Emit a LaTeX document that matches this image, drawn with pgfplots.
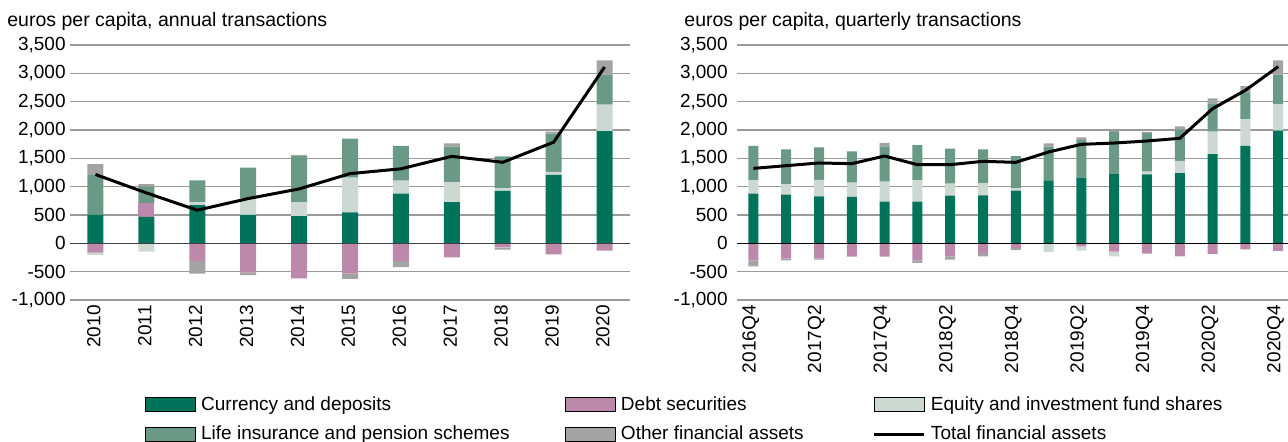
\documentclass[border=0pt]{standalone}
\usepackage{fontspec}
\setmainfont{Liberation Sans}
\usepackage{pgfplots}
\usepackage{pgfplotstable}
\pgfplotsset{compat=1.18}

\definecolor{cdep}{HTML}{00735A}
\definecolor{debt}{HTML}{BD89AA}
\definecolor{equity}{HTML}{CCD8D1}
\definecolor{lifeins}{HTML}{6A9A85}
\definecolor{other}{HTML}{A3A3A3}
\definecolor{gridc}{HTML}{9A9A9A}

% annual transactions, euros per capita (x: 0 = 2010)
\pgfplotstableread{
x cur debtp eq life oth debtn eqn othn total
0 500 0 0 718 182 -165 -40 0 1215
1 465 240 0 294 47 0 -147 0 890
2 676 0 53 383 0 -312 0 -223 585
3 500 0 294 541 0 -518 0 -41 790
4 482 0 247 818 12 -618 0 0 960
5 547 0 612 688 0 -535 0 -94 1230
6 876 0 230 612 0 -312 0 -106 1315
7 729 0 353 624 59 -247 0 0 1535
8 924 0 47 564 0 -70 -10 -30 1430
9 1206 0 53 676 36 -194 0 0 1785
10 1982 0 465 529 253 -129 0 0 3110
}\annual

% quarterly transactions (x: 0 = 2016Q4)
\pgfplotstableread{
x cur eq life oth debtn eqn othn total
0 876 236 606 0 -300 0 -106 1323
1 859 182 618 0 -271 0 -30 1370
2 829 289 576 0 -265 0 -24 1418
3 818 253 552 0 -235 0 0 1406
4 735 353 624 59 -235 0 0 1541
5 735 377 623 0 -300 0 -47 1388
6 841 212 618 0 -229 0 -59 1388
7 847 212 600 0 -171 0 -59 1447
8 929 42 570 0 -82 0 -35 1429
9 1100 0 606 59 0 -153 0 1612
10 1159 0 665 47 -53 -76 0 1747
11 1229 0 736 15 -147 -82 0 1770
12 1218 47 682 18 -182 0 0 1806
13 1241 212 553 59 -229 0 0 1853
14 1576 395 499 89 -188 0 0 2376
15 1718 470 465 123 -106 0 0 2700
16 1988 465 523 253 -135 0 0 3118
}\quarterly

\newcommand{\fs}{\fontsize{9.5}{11}\selectfont}
\newcommand{\fst}{\fontsize{9.75}{11}\selectfont}

\pgfplotsset{
  base/.style={scale only axis, height=127.5pt, ymin=-1000, ymax=3500, xmin=-0.5,
    anchor=south west, axis line style={draw=none}, major tick length=0pt,
    tick style={draw=none}},
  over/.style={base, hide axis},
  swatch/.style={legend image code/.code={\fill[##1] (0pt,-3.5pt) rectangle (25pt,3.5pt);}},
  linesw/.style={legend image code/.code={\draw[##1] (0pt,0pt) -- (25pt,0pt);}},
}

\begin{document}
\begin{tikzpicture}
\path[use as bounding box] (0pt,0pt) rectangle (644pt,-221pt);

\node[anchor=base west, font=\fst, inner sep=0pt] at (3.5pt,-13.5pt) {euros per capita, annual transactions};
\node[anchor=base west, font=\fst, inner sep=0pt] at (342pt,-13.5pt) {euros per capita, quarterly transactions};

% ---- annual: positive part ----
\begin{axis}[base, at={(35pt,-150pt)}, width=280pt, xmax=10.5,
  ybar stacked, bar width=8pt,
  ymajorgrids, grid style={gridc, line width=0.6pt},
  ytick={-1000,-500,...,3500},
  yticklabels={{-1,000},{-500},{0},{500},{1,000},{1,500},{2,000},{2,500},{3,000},{3,500}},
  xtick={0,...,10},
  xticklabels={2010,2011,2012,2013,2014,2015,2016,2017,2018,2019,2020},
  tick label style={font=\fs},
  yticklabel style={inner sep=0pt, xshift=-2pt},
  xticklabel style={xshift=-0.8pt, yshift=-2.5pt, rotate=90, anchor=east, inner sep=0pt},
]
\addplot[fill=cdep, draw=none] table[x=x, y=cur] {\annual};
\addplot[fill=debt, draw=none] table[x=x, y=debtp] {\annual};
\addplot[fill=equity, draw=none] table[x=x, y=eq] {\annual};
\addplot[fill=lifeins, draw=none] table[x=x, y=life] {\annual};
\addplot[fill=other, draw=none] table[x=x, y=oth] {\annual};
\end{axis}
% ---- annual: negative part ----
\begin{axis}[over, at={(35pt,-150pt)}, width=280pt, xmax=10.5,
  ybar stacked, bar width=8pt]
\addplot[fill=debt, draw=none] table[x=x, y=debtn] {\annual};
\addplot[fill=equity, draw=none] table[x=x, y=eqn] {\annual};
\addplot[fill=other, draw=none] table[x=x, y=othn] {\annual};
\end{axis}
% ---- annual: zero line, total, legend ----
\begin{axis}[over, at={(35pt,-150pt)}, width=280pt, xmax=10.5,
  legend columns=3,
  legend style={at={(0.1339,-0.357)}, anchor=north west, draw=none, fill=none,
    inner sep=0pt, column sep=0pt, row sep=1.5pt, font=\fs,
    nodes={inner sep=2.5pt}},
  legend cell align=left,
]
\addplot[forget plot, color=black!75, line width=0.8pt] coordinates {(-0.5,0) (10.5,0)};
\addlegendimage{swatch, fill=cdep}
\addlegendentry{\makebox[179.5pt][l]{Currency and deposits}}
\addlegendimage{swatch, fill=debt}
\addlegendentry{\makebox[123.5pt][l]{Debt securities}}
\addlegendimage{swatch, fill=equity}
\addlegendentry{Equity and investment fund shares}
\addlegendimage{swatch, fill=lifeins}
\addlegendentry{\makebox[179.5pt][l]{Life insurance and pension schemes}}
\addlegendimage{swatch, fill=other}
\addlegendentry{\makebox[123.5pt][l]{Other financial assets}}
\addplot[black, line width=1.5pt, line join=round, linesw]
  table[x=x, y=total] {\annual};
\addlegendentry{Total financial assets}
\end{axis}

% ---- quarterly: positive part ----
\begin{axis}[base, at={(368.5pt,-150pt)}, width=275.5pt, xmax=16.3,
  ybar stacked, bar width=5pt,
  ymajorgrids, grid style={gridc, line width=0.6pt},
  ytick={-1000,-500,...,3500},
  yticklabels={{-1,000},{-500},{0},{500},{1,000},{1,500},{2,000},{2,500},{3,000},{3,500}},
  xtick={0,2,...,16},
  xticklabels={2016Q4,2017Q2,2017Q4,2018Q2,2018Q4,2019Q2,2019Q4,2020Q2,2020Q4},
  tick label style={font=\fs},
  yticklabel style={inner sep=0pt, xshift=-4.5pt},
  xticklabel style={xshift=-1.3pt, yshift=-2.5pt, rotate=90, anchor=east, inner sep=0pt},
]
\addplot[fill=cdep, draw=none] table[x=x, y=cur] {\quarterly};
\addplot[fill=equity, draw=none] table[x=x, y=eq] {\quarterly};
\addplot[fill=lifeins, draw=none] table[x=x, y=life] {\quarterly};
\addplot[fill=other, draw=none] table[x=x, y=oth] {\quarterly};
\end{axis}
% ---- quarterly: negative part ----
\begin{axis}[over, at={(368.5pt,-150pt)}, width=275.5pt, xmax=16.3,
  ybar stacked, bar width=5pt]
\addplot[fill=debt, draw=none] table[x=x, y=debtn] {\quarterly};
\addplot[fill=equity, draw=none] table[x=x, y=eqn] {\quarterly};
\addplot[fill=other, draw=none] table[x=x, y=othn] {\quarterly};
\end{axis}
% ---- quarterly: zero line and total ----
\begin{axis}[over, at={(368.5pt,-150pt)}, width=275.5pt, xmax=16.3]
\addplot[color=black, line width=0.6pt] coordinates {(-0.5,0) (16.3,0)};
\addplot[black, line width=1.5pt, line join=round] table[x=x, y=total] {\quarterly};
\end{axis}
\end{tikzpicture}
\end{document}
